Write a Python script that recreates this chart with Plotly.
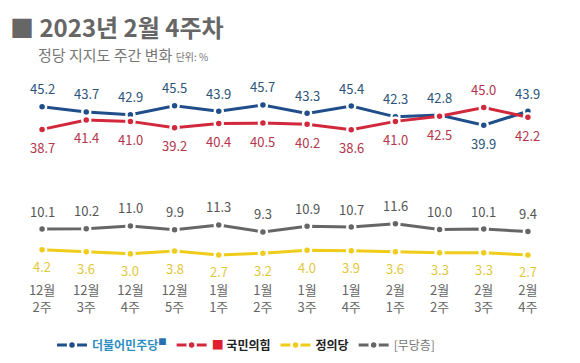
import plotly.graph_objects as go

weeks = ["12월<br>2주", "12월<br>3주", "12월<br>4주", "12월<br>5주", "1월<br>1주", "1월<br>2주",
         "1월<br>3주", "1월<br>4주", "2월<br>1주", "2월<br>2주", "2월<br>3주", "2월<br>4주"]
democratic = [45.2, 43.7, 42.9, 45.5, 43.9, 45.7, 43.3, 45.4, 42.3, 42.8, 39.9, 43.9]
ppp = [38.7, 41.4, 41.0, 39.2, 40.4, 40.5, 40.2, 38.6, 41.0, 42.5, 45.0, 42.2]
justice = [4.2, 3.6, 3.0, 3.8, 2.7, 3.2, 4.0, 3.9, 3.6, 3.3, 3.3, 2.7]
independent = [10.1, 10.2, 11.0, 9.9, 11.3, 9.3, 10.9, 10.7, 11.6, 10.0, 10.1, 9.4]

FONT = "Noto Sans CJK KR"
x = list(range(len(weeks)))

# page body has an 8px margin: figure sized to fit the window from (8, 8)
OFF = 8
W, H = 580 - OFF, 363 - OFF
ML, MR, MT, MB = 20 - OFF, 30, 90 - OFF, 83
PW, PH = W - ML - MR, H - MT - MB


def px(xp):
    return (xp - OFF - ML) / PW


def py(yp):
    return (H - MB - (yp - OFF)) / PH


series = [
    ("<span style='color:#2f8fc0'><b>더불어민주당</b></span><sup><span style='color:#2a6fb0'>■</span></sup>", democratic, "#1f4e8a"),
    ("<span style='color:#e0202e'>■</span> <b>국민의힘</b>", ppp, "#d2283c"),
    ("<b>정의당</b>", justice, "#f0cc1a"),
    ("<span style='color:#777'>[무당층]</span>", independent, "#666666"),
]

fig = go.Figure()
for name, vals, col in series:
    fig.add_trace(go.Scatter(
        x=x, y=vals, name=name, mode="lines+markers",
        line=dict(color=col, width=3),
        marker=dict(color=col, size=8, line=dict(color="white", width=2.5)),
        hoverinfo="skip",
    ))

annotations = []
for i in x:
    d, p = democratic[i], ppp[i]
    d_up = d >= p
    annotations.append(dict(x=i, y=d, text=f"{d:.1f}", yshift=18 if d_up else -18,
                            font=dict(color="#2c5478", size=13, family=FONT)))
    annotations.append(dict(x=i, y=p, text=f"{p:.1f}", yshift=-18 if d_up else 18,
                            font=dict(color="#b4354c", size=13, family=FONT)))
    annotations.append(dict(x=i, y=independent[i], text=f"{independent[i]:.1f}", yshift=18,
                            font=dict(color="#555555", size=13, family=FONT)))
    annotations.append(dict(x=i, y=justice[i], text=f"{justice[i]:.1f}", yshift=-17,
                            font=dict(color="#e2c83c", size=13, family=FONT)))
for a in annotations:
    a.update(xref="x", yref="y", showarrow=False)

annotations.append(dict(xref="paper", yref="paper", x=px(8), y=py(26),
                        xanchor="left", yanchor="middle",
                        text="<b>■ 2023년 2월 4주차</b>", showarrow=False,
                        font=dict(size=24, color="#666666", family=FONT)))
annotations.append(dict(xref="paper", yref="paper", x=px(36), y=py(54),
                        xanchor="left", yanchor="middle",
                        text="정당 지지도 주간 변화 <span style='font-size:10px'>단위: %</span>", showarrow=False,
                        font=dict(size=15, color="#777777", family=FONT)))

fig.update_layout(
    width=W, height=H,
    margin=dict(l=ML, r=MR, t=MT, b=MB, autoexpand=False),
    paper_bgcolor="white", plot_bgcolor="white",
    font=dict(family=FONT, color="#666666"),
    showlegend=True,
    legend=dict(orientation="h", xref="container", yref="container", x=(246 - OFF) / W, xanchor="center",
                y=1 - (345 - OFF) / H, yanchor="middle",
                font=dict(size=12, color="#222222", family=FONT), itemwidth=30),
    xaxis=dict(range=[-0.5, 11.5], tickvals=x, ticktext=weeks, showgrid=False, zeroline=False,
               showline=False, ticks="", automargin=False, ticklabelstandoff=1,
               tickfont=dict(size=13, color="#666666", family=FONT)),
    yaxis=dict(range=[-4.5, 50], visible=False),
    annotations=annotations,
)

fig.write_html("out.html")
